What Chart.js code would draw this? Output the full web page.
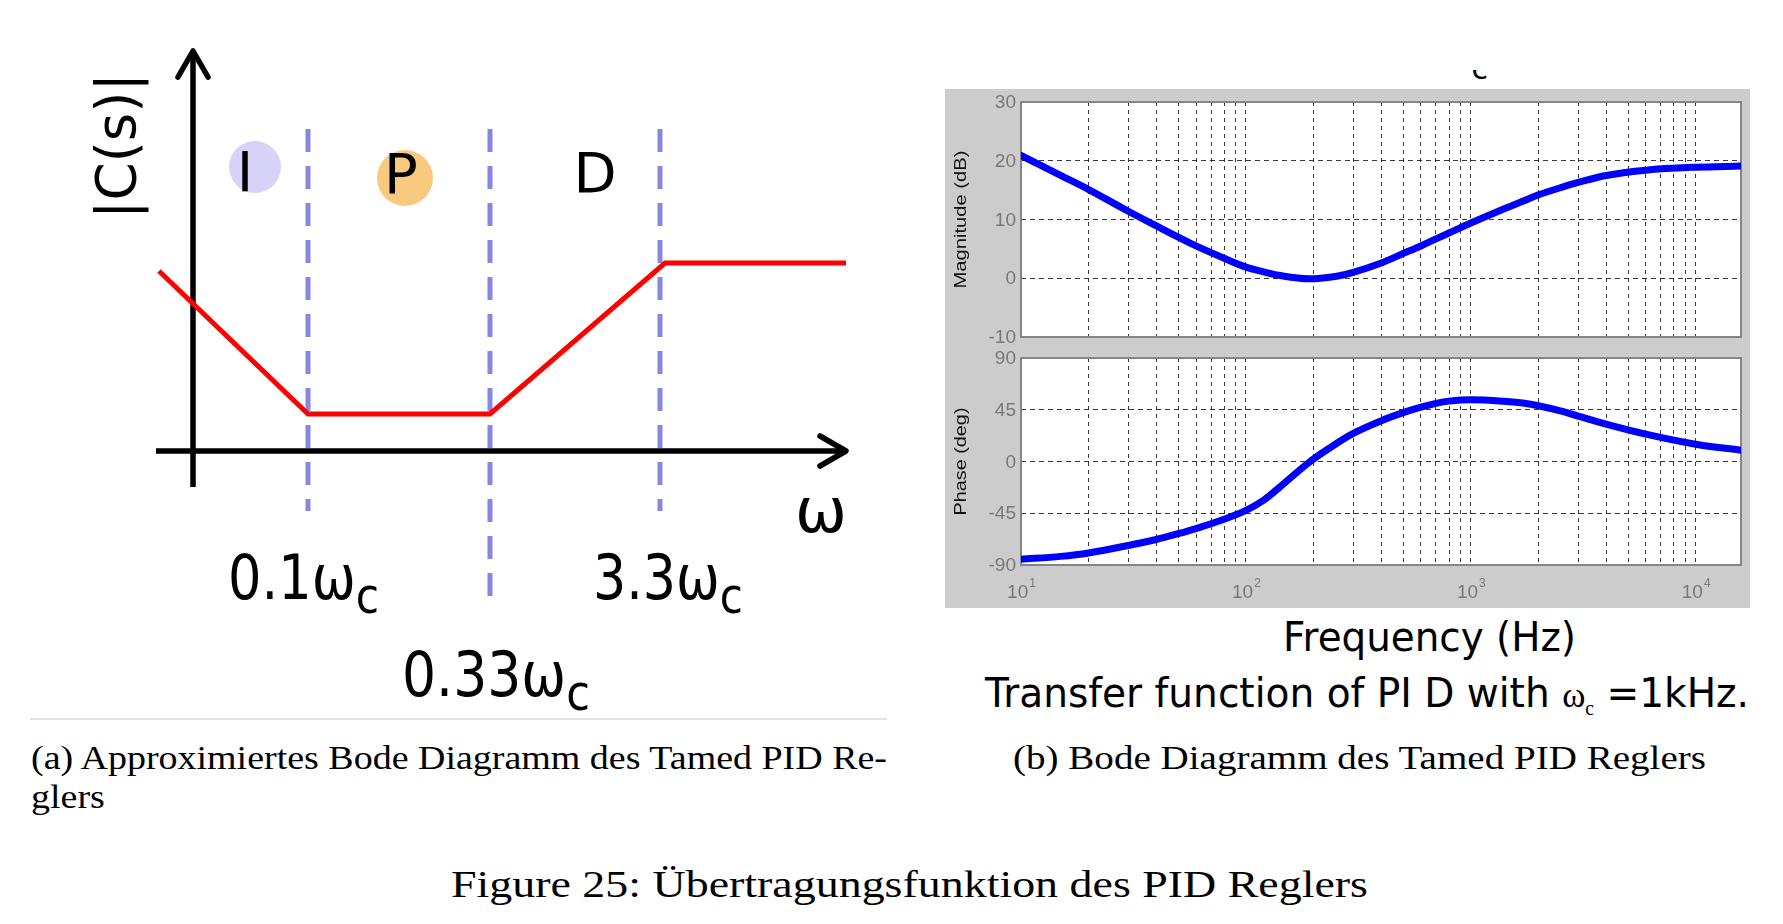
<!DOCTYPE html>
<html>
<head>
<meta charset="utf-8">
<title>Übertragungsfunktion des PID Reglers</title>
<script src="https://cdn.jsdelivr.net/npm/chart.js@4.4.1/dist/chart.umd.min.js"></script>
<style>
  html, body { margin: 0; padding: 0; background: #fff; }
  body { position: relative; width: 1783px; height: 924px; overflow: hidden; }
  canvas, .txt, .box { position: absolute; }
  .txt { white-space: nowrap; line-height: 1; transform-origin: 0 0; color: #000; }
  .serif { font-family: "Liberation Serif", "DejaVu Serif", serif; }
  .sans { font-family: "DejaVu Sans", sans-serif; }
</style>
</head>
<body>

<canvas id="approxChart" width="900" height="720" style="left:0;top:0"></canvas>
<div class="box" style="left:30px;top:718px;width:857px;height:2px;background:#e2e2e2"></div>

<div class="box" style="left:945px;top:89px;width:805px;height:519px;background:#cccccc"></div>
<canvas id="magChart" width="805" height="260" style="left:945px;top:89px"></canvas>
<canvas id="phaseChart" width="805" height="259" style="left:945px;top:349px"></canvas>
<div class="box" style="left:1470px;top:70px;width:24px;height:12px;overflow:hidden">
  <span class="txt sans" style="left:1.5px;top:-16px;font-size:30px">c</span>
</div>

<div id="freqLabel" class="txt sans" style="left:1283px;top:617px;font-size:40px">Frequency (Hz)</div>
<div id="tfLabel" class="txt sans" style="left:985px;top:673px;font-size:40px">Transfer function of PI D with <span class="serif" style="font-size:36px">ω</span><span class="serif" style="font-size:20px;position:relative;top:8px">c</span> =1kHz.</div>

<div id="capA" class="txt serif" style="left:31px;top:742px;font-size:33px">(a) Approximiertes Bode Diagramm des Tamed PID Re-</div>
<div id="capA2" class="txt serif" style="left:31px;top:781px;font-size:33px">glers</div>
<div id="capB" class="txt serif" style="left:1013px;top:742px;font-size:33px">(b) Bode Diagramm des Tamed PID Reglers</div>
<div id="figCap" class="txt serif" style="left:451px;top:865px;font-size:38px">Figure 25: Übertragungsfunktion des PID Reglers</div>

<script>
/*************************
 DATA
**************************/
// (a) asymptotic magnitude, schematic units
const approxX = [-0.34, 1.15, 2.97, 4.72, 6.53];
const approxY = [1.80, 0.37, 0.37, 1.88, 1.88];
const breakX = [1.15, 2.97, 4.67];
const breakTop = 3.22;
const breakBottom = [-0.60, -1.54, -0.60];
const breakLabels = ["0.1", "0.33", "3.3"];
const regionNames = ["I", "P", "D"];

// (b) Bode diagram
const freqHz   = [10, 15, 20, 30, 40, 50, 60, 80, 100, 120, 140, 190, 250, 300, 400, 500, 600, 700, 800, 1000, 1400, 1700, 2000, 2500, 3000, 4000, 6000, 10000, 15900];
const magDb    = [20.9, 17.5, 15.1, 11.4, 8.9, 7.0, 5.5, 3.4, 1.9, 1.1, 0.5, -0.1, 0.3, 1.0, 2.6, 4.2, 5.5, 6.7, 7.7, 9.4, 11.8, 13.1, 14.2, 15.4, 16.3, 17.5, 18.4, 18.9, 19.1];
const phaseDeg = [-85, -82.5, -79.5, -73, -67.8, -62.8, -58.3, -50.2, -42.5, -33.5, -23, -1, 15, 24.5, 35.5, 42.5, 47.3, 50.6, 52.5, 53.6, 52.4, 50.8, 48.5, 44, 39.5, 32.5, 23.8, 15, 9.8];

const freqGrid = [10, 20, 30, 40, 50, 60, 70, 80, 90,
                  100, 200, 300, 400, 500, 600, 700, 800, 900,
                  1000, 2000, 3000, 4000, 5000, 6000, 7000, 8000, 9000, 10000];
const freqDecades = [10, 100, 1000, 10000];
const magTicks = [-10, 0, 10, 20, 30];
const phaseTicks = [-90, -45, 0, 45, 90];

/*************************
 TEXT HELPER (fit to width)
**************************/
function drawParts(ctx, parts, cx, base, targetW) {
  let total = 0;
  parts.forEach(p => { ctx.font = p.font; p.w = ctx.measureText(p.t).width; total += p.w; });
  const s = targetW ? targetW / total : 1;
  ctx.save();
  ctx.translate(cx, base);
  ctx.scale(s, 1);
  ctx.textAlign = "left";
  ctx.textBaseline = "alphabetic";
  let xx = -total / 2;
  parts.forEach(p => { ctx.font = p.font; ctx.fillText(p.t, xx, p.dy || 0); xx += p.w; });
  ctx.restore();
}

/*************************
 (a) APPROXIMATED DIAGRAM
**************************/
const sketchLayout = {
  axisXMin: -0.37, axisXMax: 6.53, axisYMin: -0.36, axisYMax: 4.0,
  blobs: [
    { x: 0.62, y: 2.84, r: 26, color: "#d8d3f8" },
    { x: 2.12, y: 2.73, r: 28, color: "#f8c97f" }
  ],
  regionX: [0.52, 2.08, 4.02],
  regionBase: [2.60, 2.58, 2.59],
  labelDx: [-0.045, 0.06, 0.08],
  labelBase: [-1.48, -2.45, -1.48],
  labelW: [151, 188, 150]
};

const sketchDecor = {
  id: "sketchDecor",
  beforeDatasetsDraw(chart) {
    const { ctx, scales: { x, y } } = chart;
    const L = sketchLayout;
    ctx.save();
    L.blobs.forEach(b => {
      ctx.fillStyle = b.color;
      ctx.beginPath();
      ctx.arc(x.getPixelForValue(b.x), y.getPixelForValue(b.y), b.r, 0, Math.PI * 2);
      ctx.fill();
    });
    const x0 = x.getPixelForValue(0), y0 = y.getPixelForValue(0);
    const xEnd = x.getPixelForValue(L.axisXMax), yEnd = y.getPixelForValue(L.axisYMax);
    ctx.strokeStyle = "#000";
    ctx.lineWidth = 5.5;
    ctx.beginPath();
    ctx.moveTo(x.getPixelForValue(L.axisXMin), y0); ctx.lineTo(xEnd - 2, y0);
    ctx.moveTo(x0, y.getPixelForValue(L.axisYMin)); ctx.lineTo(x0, yEnd + 2);
    ctx.stroke();
    ctx.lineJoin = "round";
    ctx.lineCap = "round";
    ctx.beginPath();
    ctx.moveTo(xEnd - 26, y0 - 15); ctx.lineTo(xEnd, y0); ctx.lineTo(xEnd - 26, y0 + 15);
    ctx.moveTo(x0 - 15, yEnd + 26); ctx.lineTo(x0, yEnd); ctx.lineTo(x0 + 15, yEnd + 26);
    ctx.stroke();
    ctx.restore();
  },
  afterDatasetsDraw(chart) {
    const { ctx, scales: { x, y } } = chart;
    const L = sketchLayout;
    ctx.save();
    ctx.fillStyle = "#000";
    regionNames.forEach((n, i) => {
      drawParts(ctx, [{ t: n, font: '56px "DejaVu Sans"' }],
        x.getPixelForValue(L.regionX[i]), y.getPixelForValue(L.regionBase[i]));
    });
    breakLabels.forEach((t, i) => {
      drawParts(ctx, [
        { t: t, font: '62px "DejaVu Sans"' },
        { t: "ω", font: '62px "DejaVu Sans"' },
        { t: "c", font: '50px "DejaVu Sans"', dy: 14 }
      ], x.getPixelForValue(breakX[i] + L.labelDx[i]), y.getPixelForValue(L.labelBase[i]), L.labelW[i]);
    });
    // omega at the end of the horizontal axis
    drawParts(ctx, [{ t: "ω", font: '62px "DejaVu Sans"' }],
      x.getPixelForValue(L.axisXMax) - 25, y.getPixelForValue(0) + 81);
    // |C(s)| along the vertical axis
    ctx.save();
    ctx.translate(x.getPixelForValue(0) - 78, 146);
    ctx.rotate(-Math.PI / 2);
    drawParts(ctx, [{ t: "|C(s)|", font: '55px "DejaVu Sans"' }], 0, 20, 146);
    ctx.restore();
    ctx.restore();
  }
};

const sketchDatasets = [{
  data: approxX.map((v, i) => ({ x: v, y: approxY[i] })),
  showLine: true, borderColor: "#ff0000", borderWidth: 5, pointRadius: 0, tension: 0
}];
breakX.forEach((bx, i) => {
  sketchDatasets.push({
    data: [{ x: bx, y: breakTop }, { x: bx, y: breakBottom[i] }],
    showLine: true, borderColor: "#8787e3", borderWidth: 5, borderDash: [23, 14],
    borderCapStyle: "butt", pointRadius: 0
  });
});

new Chart(document.getElementById("approxChart"), {
  type: "scatter",
  data: { datasets: sketchDatasets },
  options: {
    responsive: false, animation: false, devicePixelRatio: 1, events: [],
    layout: { padding: 0 },
    plugins: { legend: { display: false }, tooltip: { enabled: false } },
    scales: {
      x: { type: "linear", display: false, min: -1.93, max: 7.07 },
      y: { type: "linear", display: false, min: -2.69, max: 4.51 }
    }
  },
  plugins: [sketchDecor]
});

/*************************
 (b) BODE DIAGRAM
**************************/
const bodeFrame = {
  id: "bodeFrame",
  beforeDraw(chart) {
    const a = chart.chartArea;
    chart.ctx.save();
    chart.ctx.fillStyle = "#fff";
    chart.ctx.fillRect(a.left, a.top, a.width, a.height);
    chart.ctx.restore();
  },
  beforeDatasetsDraw(chart, args, opts) {
    const { ctx, chartArea: a, scales: { x, y } } = chart;
    ctx.save();
    ctx.strokeStyle = "#858585";
    ctx.lineWidth = 2;
    ctx.strokeRect(a.left, a.top, a.width, a.height);

    ctx.fillStyle = "#787878";
    ctx.font = '19px "Liberation Sans"';
    ctx.textAlign = "right";
    ctx.textBaseline = "middle";
    y.ticks.forEach(t => ctx.fillText(String(t.value), a.left - 5, y.getPixelForValue(t.value) + 1));

    if (opts.decades) {
      opts.decades.forEach(v => {
        const px = x.getPixelForValue(v);
        ctx.font = '19px "Liberation Sans"';
        const w10 = ctx.measureText("10").width;
        ctx.font = '12px "Liberation Sans"';
        const e = String(Math.round(Math.log10(v)));
        const we = ctx.measureText(e).width;
        const left = px - (w10 + we) / 2;
        ctx.textAlign = "left";
        ctx.font = '19px "Liberation Sans"';
        ctx.fillText("10", left, a.bottom + 28);
        ctx.font = '12px "Liberation Sans"';
        ctx.fillText(e, left + w10 + 1, a.bottom + 19);
      });
    }

    // rotated axis title in the grey margin
    ctx.fillStyle = "#111";
    ctx.translate(a.left - 61, (a.top + a.bottom) / 2);
    ctx.rotate(-Math.PI / 2);
    drawParts(ctx, [{ t: opts.title, font: '17px "Liberation Sans"' }], 0, 6, opts.titleLen);
    ctx.restore();
  }
};

function bodeChart(canvasId, values, yMin, yMax, yTicks, padding, frameOpts) {
  return new Chart(document.getElementById(canvasId), {
    type: "line",
    data: {
      datasets: [{
        data: freqHz.map((f, i) => ({ x: f, y: values[i] })),
        borderColor: "#0000ff", borderWidth: 7, pointRadius: 0,
        tension: 0.35, borderCapStyle: "round", borderJoinStyle: "round"
      }]
    },
    options: {
      responsive: false, animation: false, devicePixelRatio: 1, events: [],
      layout: { padding: padding },
      plugins: { legend: { display: false }, tooltip: { enabled: false }, bodeFrame: frameOpts },
      scales: {
        x: {
          type: "logarithmic", min: 10, max: 15900,
          afterBuildTicks: s => { s.ticks = freqGrid.map(v => ({ value: v })); },
          afterFit: s => { s.height = 0; },
          ticks: { display: false },
          grid: { color: "rgba(20,20,20,0.85)", lineWidth: 1, drawTicks: false },
          border: { display: false, dash: [4, 4] }
        },
        y: {
          type: "linear", min: yMin, max: yMax,
          afterBuildTicks: s => { s.ticks = yTicks.map(v => ({ value: v })); },
          afterFit: s => { s.width = 0; },
          ticks: { display: false },
          grid: { color: "rgba(20,20,20,0.85)", lineWidth: 1, drawTicks: false },
          border: { display: false, dash: [5, 4] }
        }
      }
    },
    plugins: [bodeFrame]
  });
}

bodeChart("magChart", magDb, -10, 30, magTicks,
  { left: 76, right: 9, top: 13, bottom: 12 },
  { title: "Magnitude (dB)", titleLen: 138 });

bodeChart("phaseChart", phaseDeg, -90, 90, phaseTicks,
  { left: 76, right: 9, top: 9, bottom: 43 },
  { title: "Phase (deg)", titleLen: 108, decades: freqDecades });

/*************************
 HTML TEXT FIT
**************************/
function fitWidth(id, target, scale) {
  const el = document.getElementById(id);
  const s = scale || target / el.getBoundingClientRect().width;
  el.style.transform = "scaleX(" + s + ")";
  return s;
}
const sA = fitWidth("capA", 856);
fitWidth("capA2", 0, sA);
fitWidth("capB", 693);
fitWidth("figCap", 917);
fitWidth("freqLabel", 293);
fitWidth("tfLabel", 764);
</script>
</body>
</html>
